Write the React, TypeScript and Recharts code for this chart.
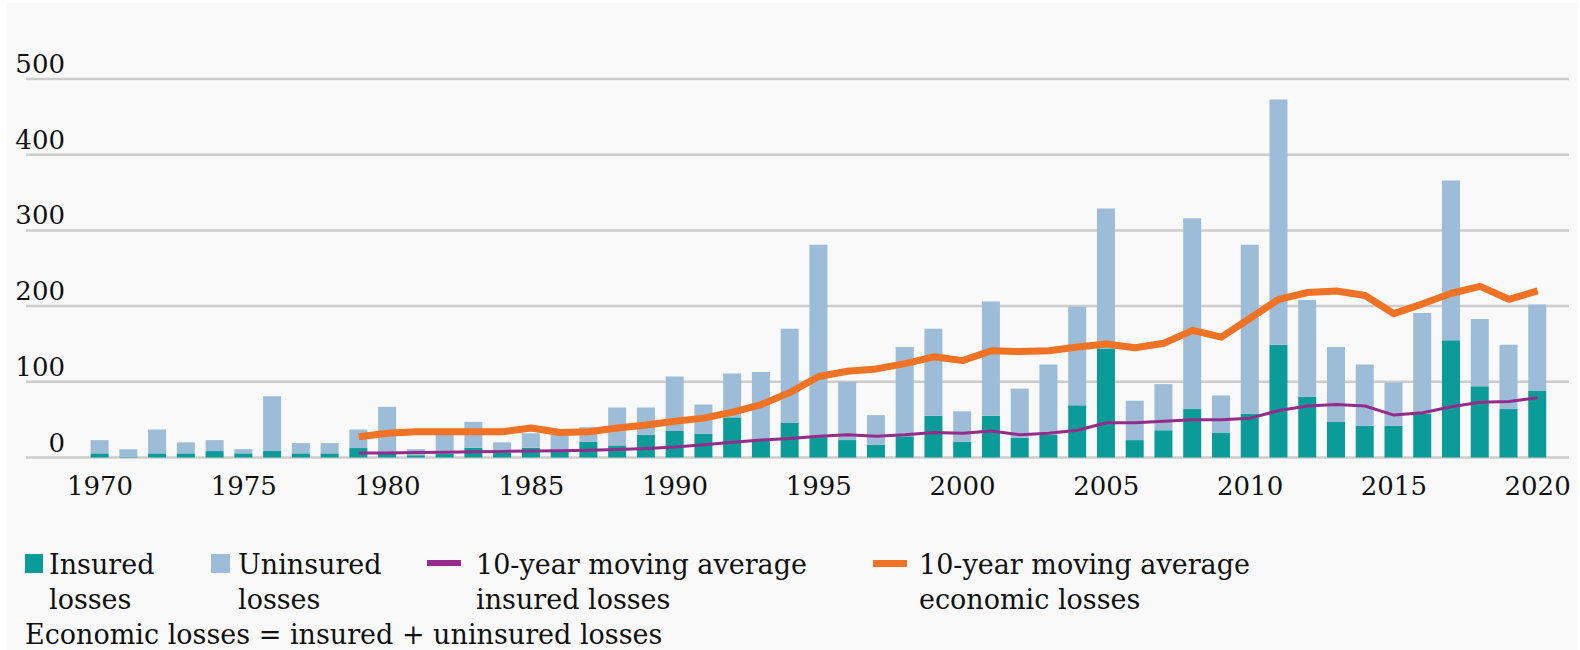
import { ComposedChart, Bar, Line, XAxis, YAxis, CartesianGrid } from 'recharts';

const years = [
  '1970', '1971', '1972', '1973', '1974', '1975', '1976', '1977', '1978', '1979',
  '1980', '1981', '1982', '1983', '1984', '1985', '1986', '1987', '1988', '1989',
  '1990', '1991', '1992', '1993', '1994', '1995', '1996', '1997', '1998', '1999',
  '2000', '2001', '2002', '2003', '2004', '2005', '2006', '2007', '2008', '2009',
  '2010', '2011', '2012', '2013', '2014', '2015', '2016', '2017', '2018', '2019',
  '2020',
];

// insured losses (teal, bottom of stack)
const insured = [
  5.5, 1, 5.5, 5.5, 8.5, 5.5, 8.5, 5.5, 5.5, 12.5,
  5, 3, 5, 13, 6, 13, 9, 21, 16, 30,
  35, 31, 53, 22, 46, 27, 23, 17, 28, 55,
  21, 55, 26, 30, 69, 144, 23, 36, 64, 33,
  58, 149, 80, 47, 42, 42, 58, 155, 94, 64,
  88,
];

// uninsured losses (light blue, stacked on top)
const uninsured = [
  17.5, 10, 31.5, 14.5, 14.5, 5.5, 72.5, 13.5, 13.5, 24.5,
  62, 8, 25, 34, 14, 19, 21, 19, 50, 36,
  72, 39, 58, 91, 124, 254, 77, 39, 118, 115,
  40, 151, 65, 93, 130, 185, 52, 61, 252, 49,
  223, 324, 128, 99, 81, 57, 133, 211, 89, 85,
  114,
];

// 10-year moving averages, starting 1979
const avgInsured = [
  null, null, null, null, null, null, null, null, null, 6,
  6, 6.5, 7, 7.5, 8, 8.5, 9, 9.5, 10.5, 12,
  14, 17, 20, 23, 25, 28, 30, 28, 30, 33,
  32, 35, 30, 32, 36, 46, 46, 48, 50, 50,
  52, 62, 68, 70, 68, 56, 59, 67, 73, 74,
  79,
];

const avgEconomic = [
  null, null, null, null, null, null, null, null, null, 27.5,
  32, 34, 34, 34, 34, 39, 33, 34, 39, 43,
  48, 52, 60, 70, 86, 107, 114, 117, 124, 133,
  128, 141, 140, 141, 146, 150, 145, 151, 168, 159,
  184, 209, 218, 220, 214, 190, 203, 217, 226, 209,
  220,
];

const yTicks = [0, 100, 200, 300, 400, 500];

const data = years.map((year, i) => ({
  year,
  insured: insured[i],
  uninsured: uninsured[i],
  avgInsured: avgInsured[i],
  avgEconomic: avgEconomic[i],
}));

const FONT = "'DejaVu Serif', serif";
const TEAL = '#0b9c9a';
const BLUE = '#9dbcd8';
const PURPLE = '#952b8a';
const ORANGE = '#f07224';

function YearTick({ x, y, payload }: any) {
  return (
    <text x={x} y={y + 37} textAnchor="middle" fontFamily={FONT} fontSize={26} fill="#111">
      {payload.value}
    </text>
  );
}

function ValueTick({ x, y, payload }: any) {
  return (
    <text x={x + 39} y={y - 6} textAnchor="end" fontFamily={FONT} fontSize={26} fill="#111">
      {payload.value}
    </text>
  );
}

const legendText = {
  position: 'absolute' as const,
  fontFamily: FONT,
  fontSize: 27,
  lineHeight: '35px',
  color: '#111',
  whiteSpace: 'nowrap' as const,
};

export default function App() {
  return (
    <div style={{ position: 'absolute', left: 0, top: 0, width: 1580, height: 650, background: '#fff' }}>
      <div style={{ position: 'absolute', left: 7, top: 3, width: 1570, height: 647, background: '#f9f9f9' }} />
      <div style={{ position: 'absolute', left: 0, top: 0 }}>
        <ComposedChart
          width={1580}
          height={650}
          data={data}
          margin={{ top: 79, right: 11, left: 25, bottom: 132.5 }}
        >
          <CartesianGrid vertical={false} stroke="#cccccc" strokeWidth={2.5} />
          <XAxis
            dataKey="year"
            height={60}
            interval={4}
            axisLine={false}
            tickLine={false}
            tickSize={0}
            tickMargin={0}
            padding={{ left: 59.6, right: 17 }}
            tick={<YearTick />}
          />
          <YAxis
            width={1}
            domain={[0, 500]}
            ticks={yTicks}
            axisLine={false}
            tickLine={false}
            tickSize={0}
            tickMargin={0}
            tick={<ValueTick />}
          />
          <Bar dataKey="insured" stackId="a" fill={TEAL} barSize={18} isAnimationActive={false} />
          <Bar dataKey="uninsured" stackId="a" fill={BLUE} barSize={18} isAnimationActive={false} />
          <Line
            type="linear"
            dataKey="avgEconomic"
            stroke={ORANGE}
            strokeWidth={7}
            strokeLinejoin="round"
            dot={false}
            isAnimationActive={false}
          />
          <Line
            type="linear"
            dataKey="avgInsured"
            stroke={PURPLE}
            strokeWidth={3}
            strokeLinejoin="round"
            dot={false}
            isAnimationActive={false}
          />
        </ComposedChart>
      </div>

      <div style={{ position: 'absolute', left: 25, top: 554, width: 18, height: 19, background: TEAL }} />
      <div style={{ ...legendText, left: 49, top: 547 }}>Insured<br />losses</div>

      <div style={{ position: 'absolute', left: 211, top: 554, width: 19, height: 19, background: BLUE }} />
      <div style={{ ...legendText, left: 238, top: 547 }}>Uninsured<br />losses</div>

      <div style={{ position: 'absolute', left: 427, top: 560, width: 34, height: 6, background: PURPLE }} />
      <div style={{ ...legendText, left: 476, top: 547 }}>10-year moving average<br />insured losses</div>

      <div style={{ position: 'absolute', left: 873, top: 560, width: 34, height: 7, background: ORANGE }} />
      <div style={{ ...legendText, left: 919, top: 547 }}>10-year moving average<br />economic losses</div>

      <div style={{ ...legendText, left: 25, top: 617 }}>Economic losses = insured + uninsured losses</div>
    </div>
  );
}
